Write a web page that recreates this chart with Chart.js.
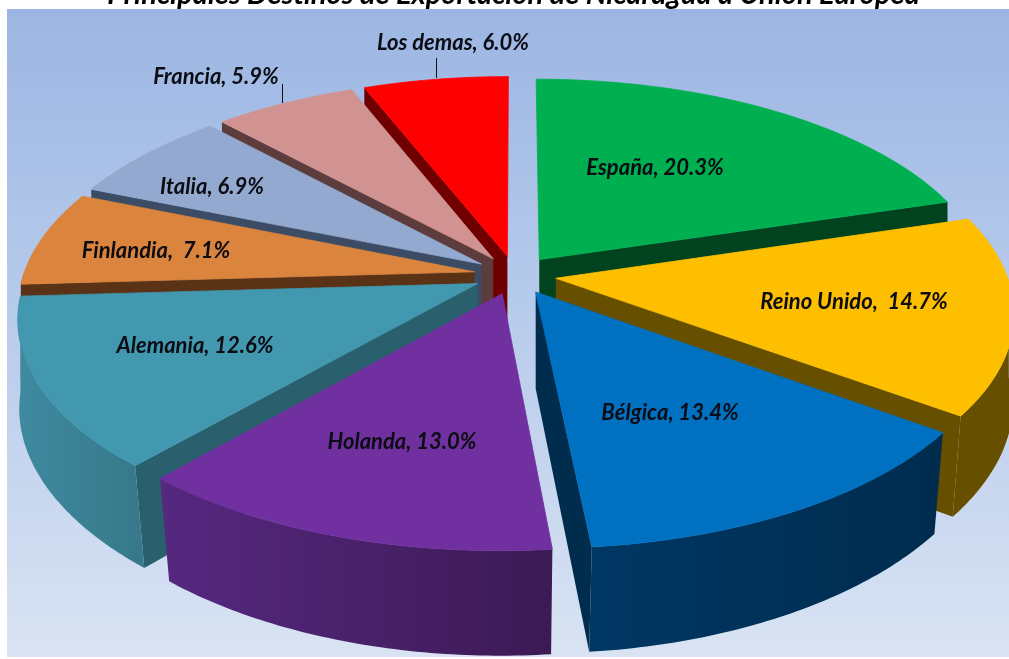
<!DOCTYPE html>
<html>
<head>
<meta charset="utf-8">
<title>Principales Destinos</title>
<script src="https://cdn.jsdelivr.net/npm/chart.js@4"></script>
<style>
  html, body { margin: 0; padding: 0; background: #fff; }
  #box { width: 1009px; height: 659px; overflow: hidden; }
</style>
</head>
<body>
<div id="box"><canvas id="pieChart"></canvas></div>
<script>
const titleText = 'Principales Destinos de Exportación de Nicaragua a Unión Europea';
const countries = ['España', 'Reino Unido', 'Bélgica', 'Holanda', 'Alemania', 'Finlandia', 'Italia', 'Francia', 'Los demas'];
const shares = [20.3, 14.7, 13.4, 13.0, 12.6, 7.1, 6.9, 5.9, 6.0];
const labelTexts = ['España, 20.3%', 'Reino Unido,  14.7%', 'Bélgica, 13.4%', 'Holanda, 13.0%', 'Alemania, 12.6%', 'Finlandia,  7.1%', 'Italia, 6.9%', 'Francia, 5.9%', 'Los demas, 6.0%'];

// colours: top of the slice, cut faces, outer wall left/right
const topColors = ['#00b050', '#fdbf00', '#0070c0', '#7030a0', '#4198af', '#db843d', '#93a9cf', '#d19392', '#ff0000'];
const faceColors = ['#00431e', '#665000', '#002d4e', '#3e1a5c', '#2a5f6e', '#5a3216', '#3c4c64', '#5c3c3c', '#700000'];
const wallLeft = ['#006a30', '#665000', '#003763', '#562880', '#3f8aa0', '#5a3216', '#3c4c64', '#5c3c3c', '#700000'];
const wallRight = ['#00431e', '#665000', '#002c4e', '#3c1a54', '#37798b', '#5a3216', '#3c4c64', '#5c3c3c', '#700000'];

// label centres, placed by hand like in the original
const labelSpots = [[655, 168], [854, 302], [670, 413], [402, 442], [195, 346], [156, 251], [212, 187], [216, 77], [453, 43]];
const leaderLines = [[282, 84, 282, 103], [436, 58, 436, 78]];

// perspective used to lay the pie on its side
const view = { cx: 515, cy: 275, ax: 451, by: 212, persp: 0.151, depth: 96, shrink: 0.035 };

function project(el, angle, frac, drop) {
  const mid = (el.startAngle + el.endAngle) / 2;
  const push = el.options.offset / 4 / el.outerRadius;
  const u = Math.cos(mid) * push + Math.cos(angle) * frac;
  const v = Math.sin(mid) * push + Math.sin(angle) * frac;
  const s = 1 / (1 - view.persp * v);
  const x = view.ax * u * s * (drop ? 1 - view.shrink * Math.max(v - 0.1, 0) : 1);
  return [view.cx + x, view.cy + view.by * v * s + (drop ? view.depth * Math.sqrt(s) : 0)];
}

function fillPoly(ctx, pts, style, edge) {
  ctx.beginPath();
  pts.forEach((p, i) => (i ? ctx.lineTo(p[0], p[1]) : ctx.moveTo(p[0], p[1])));
  ctx.closePath();
  ctx.fillStyle = style;
  ctx.fill();
  if (edge) {
    ctx.strokeStyle = style;
    ctx.lineWidth = 0.8;
    ctx.stroke();
  }
}

function rimAngles(el) {
  const list = [];
  for (let k = 0; k <= 60; k++) list.push(el.startAngle + (el.endAngle - el.startAngle) * k / 60);
  return list;
}

function drawFace(ctx, el, a, i) {
  fillPoly(ctx, [project(el, a, 0, false), project(el, a, 1, false), project(el, a, 1, true), project(el, a, 0, true)], faceColors[i]);
}

function drawSlice(ctx, el, i) {
  // cut faces, only the ones turned towards the viewer
  if (Math.cos(el.startAngle) < -0.001) drawFace(ctx, el, el.startAngle, i);
  if (Math.cos(el.endAngle) > 0.001) drawFace(ctx, el, el.endAngle, i);
  // outer wall, front part of the rim only
  const angles = rimAngles(el);
  const front = angles.filter(a => Math.sin(a) >= 0);
  if (front.length > 1) {
    const rim = front.map(a => project(el, a, 1, false));
    const rimLow = front.map(a => project(el, a, 1, true));
    const xs = rim.map(p => p[0]);
    const grad = ctx.createLinearGradient(Math.min(...xs), 0, Math.max(...xs), 0);
    grad.addColorStop(0, wallLeft[i]);
    grad.addColorStop(1, wallRight[i]);
    fillPoly(ctx, rim.concat(rimLow.reverse()), grad);
  }
  // top
  const top = angles.map(a => project(el, a, 1, false));
  fillPoly(ctx, [project(el, el.startAngle, 0, false)].concat(top), topColors[i], true);
}

const pie3d = {
  id: 'pie3d',
  beforeDraw(chart) {
    const ctx = chart.ctx;
    const grad = ctx.createLinearGradient(0, 9, 0, 657);
    grad.addColorStop(0, '#9cb6e3');
    grad.addColorStop(0.4, '#b3c8ea');
    grad.addColorStop(1, '#d9e3f3');
    ctx.fillStyle = grad;
    ctx.fillRect(7, 9, 1002, 648);
  },
  beforeDatasetsDraw(chart) {
    const ctx = chart.ctx;
    const arcs = chart.getDatasetMeta(0).data;
    const order = arcs.map((el, i) => i).sort((a, b) =>
      Math.sin((arcs[a].startAngle + arcs[a].endAngle) / 2) - Math.sin((arcs[b].startAngle + arcs[b].endAngle) / 2));
    ctx.save();
    order.forEach(i => drawSlice(ctx, arcs[i], i));
    ctx.strokeStyle = '#111';
    ctx.lineWidth = 1;
    leaderLines.forEach(l => {
      ctx.beginPath();
      ctx.moveTo(l[0] + 0.5, l[1]);
      ctx.lineTo(l[2] + 0.5, l[3]);
      ctx.stroke();
    });
    ctx.fillStyle = '#0c0c14';
    ctx.font = 'italic bold 22px Lato, "Open Sans", sans-serif';
    ctx.textAlign = 'center';
    ctx.textBaseline = 'middle';
    labelTexts.forEach((t, i) => ctx.fillText(t, labelSpots[i][0], labelSpots[i][1]));
    ctx.restore();
    return false;
  }
};

new Chart(document.getElementById('pieChart'), {
  type: 'pie',
  data: {
    labels: countries,
    datasets: [{ data: shares, backgroundColor: topColors, borderWidth: 0, offset: 100 }]
  },
  options: {
    responsive: true,
    maintainAspectRatio: false,
    animation: false,
    layout: { padding: { left: 18 } },
    plugins: {
      legend: { display: false },
      tooltip: { enabled: false },
      title: {
        display: true,
        text: titleText,
        color: '#000',
        font: { family: 'Lato, "Open Sans", sans-serif', size: 29, weight: 'bold', style: 'italic' },
        padding: { top: -23, bottom: 0 }
      }
    }
  },
  plugins: [pie3d]
});
</script>
</body>
</html>
